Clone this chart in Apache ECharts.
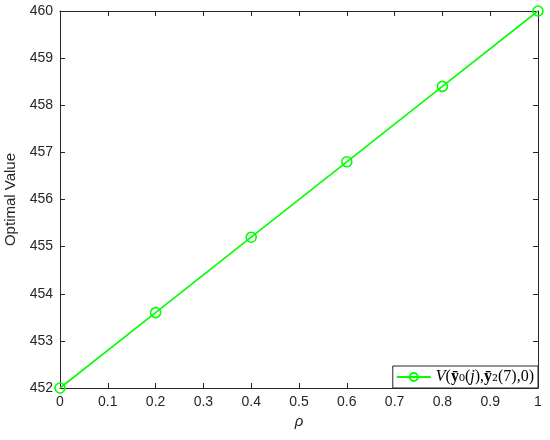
<!DOCTYPE html>
<html>
<head>
<meta charset="utf-8">
<script src="https://cdn.jsdelivr.net/npm/echarts@6/dist/echarts.min.js"></script>
<style>
  html, body { margin: 0; padding: 0; background: #fff; }
  #chart { width: 550px; height: 440px; }
</style>
</head>
<body>
<div id="chart"></div>
<script>
// data
const rhoValues = [0, 0.2, 0.4, 0.6, 0.8, 1.0];
const optimalValues = [452, 453.6, 455.2, 456.8, 458.4, 460];
const seriesName = 'V';

const initChart = function () {
    const points = rhoValues.map(function (r, i) {
        return [r, optimalValues[i]];
    });

    const axisColor = '#262626';
    const font = 'Liberation Sans, Arial, sans-serif';
    const serif = 'Liberation Serif, Times New Roman, serif';
    const tick = {show: true, inside: true, length: 5, lineStyle: {color: axisColor}};
    const line = {show: true, onZero: false, lineStyle: {color: axisColor}};

    const option = {
        animation: false,
        grid: {
            left: 60,
            right: 12,
            top: 11,
            bottom: 52,
            outerBoundsMode: 'none',
            containLabel: false
        },
        legend: {
            right: 12,
            bottom: 52,
            orient: 'horizontal',
            itemWidth: 34,
            itemHeight: 10,
            itemGap: 4,
            padding: [3, 4, 3, 3],
            borderColor: axisColor,
            borderWidth: 1,
            backgroundColor: '#fff',
            formatter: function () {
                return '{it|V}{n|(}{b|ȳ}{s|₀}{n|(}{it|j}{n|),}{b|ȳ}{s|₂}{n|(7),0)}';
            },
            textStyle: {
                fontFamily: serif,
                fontSize: 16,
                color: '#000',
                rich: {
                    it: {fontStyle: 'italic', fontFamily: serif, fontSize: 16, color: '#000'},
                    b: {fontWeight: 'bold', fontFamily: serif, fontSize: 16, color: '#000'},
                    n: {fontFamily: serif, fontSize: 16, color: '#000'},
                    s: {fontFamily: 'DejaVu Serif, serif', fontSize: 15, color: '#000'}
                }
            }
        },
        xAxis: [
            {
                type: 'value',
                min: 0,
                max: 1,
                interval: 0.1,
                name: 'ρ',
                nameLocation: 'middle',
                nameGap: 21,
                nameTextStyle: {fontStyle: 'italic', fontSize: 15, color: '#262626', fontFamily: font},
                axisLine: line,
                axisTick: tick,
                axisLabel: {color: '#262626', fontSize: 14, fontFamily: font, margin: 7},
                splitLine: {show: false}
            },
            {
                type: 'value',
                position: 'top',
                min: 0,
                max: 1,
                interval: 0.1,
                axisLine: line,
                axisTick: tick,
                axisLabel: {show: false},
                splitLine: {show: false}
            }
        ],
        yAxis: [
            {
                type: 'value',
                min: 452,
                max: 460,
                interval: 1,
                name: 'Optimal Value',
                nameLocation: 'middle',
                nameGap: 28,
                nameTextStyle: {fontSize: 15, color: '#262626', fontFamily: font},
                axisLine: line,
                axisTick: tick,
                axisLabel: {color: '#262626', fontSize: 14, fontFamily: font, margin: 7},
                splitLine: {show: false}
            },
            {
                type: 'value',
                position: 'right',
                min: 452,
                max: 460,
                interval: 1,
                axisLine: line,
                axisTick: tick,
                axisLabel: {show: false},
                splitLine: {show: false}
            }
        ],
        series: [
            {
                name: seriesName,
                type: 'line',
                data: points,
                symbol: 'circle',
                symbolSize: 10,
                color: '#00ff00',
                lineStyle: {color: '#00ff00', width: 1.6},
                itemStyle: {color: 'rgba(0,0,0,0)', borderColor: '#00ff00', borderWidth: 1.6}
            }
        ]
    };

    const chart = echarts.init(document.getElementById('chart'));
    chart.setOption(option);
};

initChart();
</script>
</body>
</html>
